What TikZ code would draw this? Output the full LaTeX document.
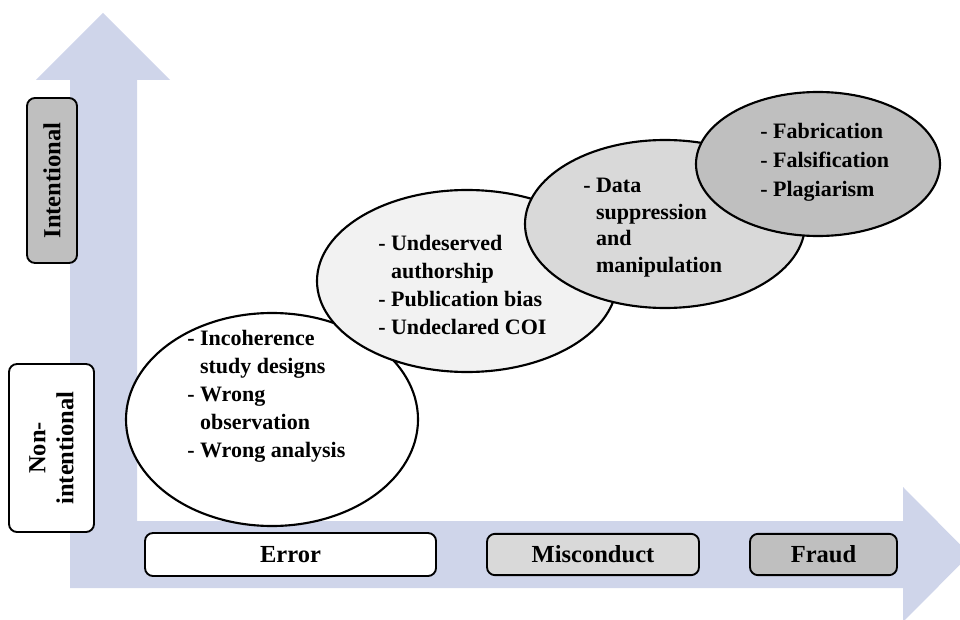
\documentclass[tikz,border=0pt]{standalone}
\usepackage{fontspec}
\setmainfont{Liberation Serif}
\usetikzlibrary{shapes.geometric}
\definecolor{axisblue}{RGB}{207,213,234}
\definecolor{gA}{RGB}{242,242,242}
\definecolor{gB}{RGB}{217,217,217}
\definecolor{gC}{RGB}{191,191,191}
\begin{document}
\begin{tikzpicture}[x=0.75pt,y=-0.75pt,
  ell/.style={ellipse, draw=black, line width=1.6pt, inner sep=0pt},
  txt/.style={anchor=west, align=left, inner sep=0pt},
  lab/.style={rectangle, rounded corners=6pt, draw=black, line width=1.4pt, inner sep=0pt,
    font=\fontsize{18.4}{21}\selectfont\bfseries, align=center}]
\useasboundingbox (0,0) rectangle (960,620);
\clip (0,0) rectangle (960,620);
% axes
\fill[axisblue] (70,588) -- (70,80) -- (36,80) -- (103,13) -- (170,80) -- (137,80)
  -- (137,521) -- (903,521) -- (903,487) -- (970,554.5) -- (903,622) -- (903,588) -- cycle;
% ellipses
\node[ell, fill=white, minimum width=219pt, minimum height=159.75pt] (e1) at (272,419.5) {};
\node[ell, fill=gA, minimum width=225pt, minimum height=136.5pt] (e2) at (467,281) {};
\node[ell, fill=gB, minimum width=210pt, minimum height=126pt] (e3) at (665,224) {};
\node[ell, fill=gC, minimum width=183pt, minimum height=108pt] (e4) at (818,164) {};
% texts
\node[txt, font=\fontsize{16.5}{21}\selectfont\bfseries] (t1) at (187,396)
  {- Incoherence\\\phantom{- }study designs\\- Wrong\\\phantom{- }observation\\- Wrong analysis};
\node[txt, font=\fontsize{16.5}{21}\selectfont\bfseries] (t2) at (378,284.5)
  {- Undeserved\\\phantom{- }authorship\\- Publication bias\\- Undeclared COI};
\node[txt, font=\fontsize{16.5}{20}\selectfont\bfseries] (t3) at (583,227.5)
  {- Data\\\phantom{- }suppression\\\phantom{- }and\\\phantom{- }manipulation};
\node[txt, font=\fontsize{16.5}{21.75}\selectfont\bfseries] (t4) at (760,162)
  {- Fabrication\\- Falsification\\- Plagiarism};
% labels
\node[lab, fill=white, minimum width=218.25pt, minimum height=32.25pt] (err) at (290.5,554.5) {Error};
\node[lab, fill=gB, minimum width=159pt, minimum height=31pt] (mis) at (593,554.5) {Misconduct};
\node[lab, fill=gC, minimum width=110.25pt, minimum height=31pt] (fra) at (823.5,554.5) {Fraud};
\node[lab, fill=gC, rotate=90, minimum width=123.75pt, minimum height=37.5pt] (intl) at (52,180.5) {Intentional};
\node[lab, fill=white, rotate=90, minimum width=126pt, minimum height=63.75pt] (nonintl) at (51.5,448) {Non-\\intentional};
\end{tikzpicture}
\end{document}
